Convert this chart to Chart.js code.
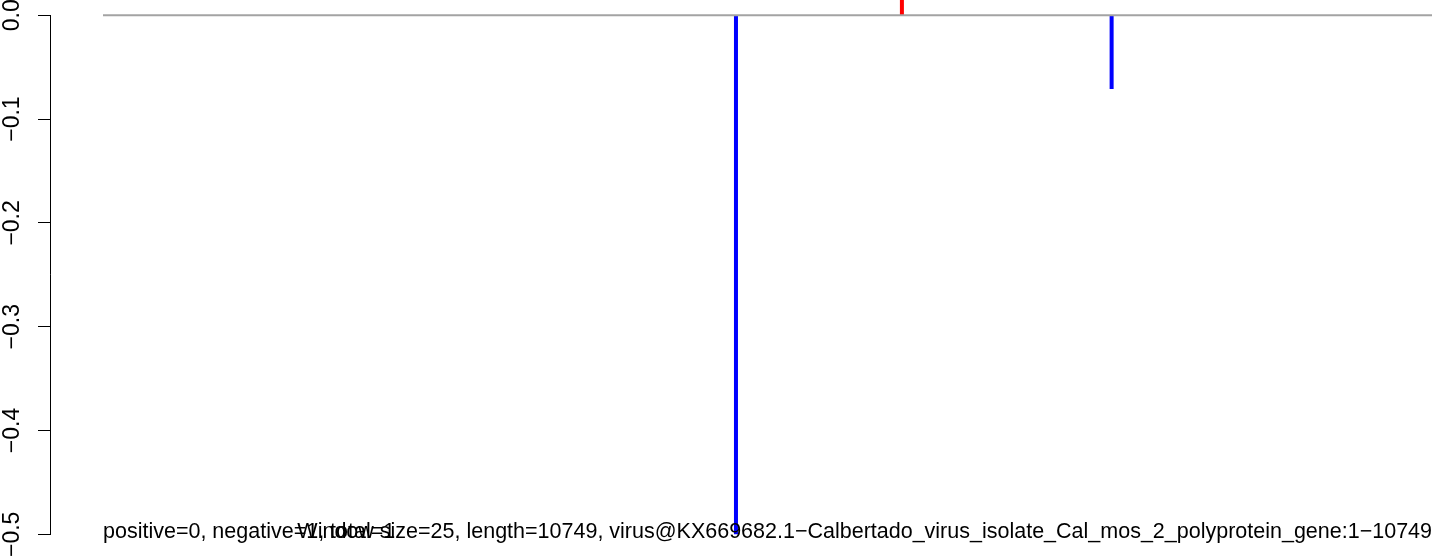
<!DOCTYPE html>
<html>
<head>
<meta charset="utf-8">
<script src="https://cdn.jsdelivr.net/npm/chart.js@4/dist/chart.umd.min.js"></script>
<style>
  html, body { margin: 0; padding: 0; background: #ffffff; }
  #wrap { width: 1444px; height: 560px; }
</style>
</head>
<body>
<div id="wrap"><canvas id="c" width="1444" height="560"></canvas></div>
<script>
// ---- data ----
const seqStart = 1;
const seqEnd = 10749;
const negativePositions = [5120, 8158];
const negativeValues = [-0.5, -0.071];
const positivePositions = [6462];
const positiveValues = [0.05];
const yTickValues = [0, -0.1, -0.2, -0.3, -0.4, -0.5];
const leftNote = "positive=0, negative=1, total=1";
const rightNote = "Window size=25, length=10749, virus@KX669682.1\u2212Calbertado_virus_isolate_Cal_mos_2_polyprotein_gene:1\u221210749";

// ---- layout constants ----
const FONT = "'Liberation Sans', Arial, Helvetica, sans-serif";
const FS = 21.5;
const TFS = 23;
const axisW = 51;
const W = 1444, H = 560;
const kx = (1432 - 103) / (seqEnd - seqStart);
const xMin = seqStart - (103 - axisW) / kx;
const xMax = xMin + (W - axisW) / kx;
const ky = (534.3 - 15.3) / 0.5;
const yMax = 15.3 / ky;
const yMin = yMax - H / ky;

const datasets = [];
datasets.push({
  data: [{x: seqStart, y: 0}, {x: seqEnd, y: 0}],
  borderColor: '#a3a3a3', borderWidth: 2, pointRadius: 0, order: 0
});
negativePositions.forEach((p, i) => datasets.push({
  data: [{x: p, y: 0}, {x: p, y: negativeValues[i]}],
  borderColor: '#0000ff', borderWidth: 4, pointRadius: 0, borderCapStyle: 'butt', order: 1
}));
positivePositions.forEach((p, i) => datasets.push({
  data: [{x: p, y: 0}, {x: p, y: positiveValues[i]}],
  borderColor: '#ff0000', borderWidth: 4, pointRadius: 0, borderCapStyle: 'butt', order: 1
}));

const fmt = v => v === 0 ? '0.0' : (v < 0 ? '\u2212' : '') + Math.abs(v).toFixed(1);

const axisLine = {
  id: 'axisLine',
  afterDraw(chart) {
    const ctx = chart.ctx, ys = chart.scales.y, xs = chart.scales.x;
    ctx.save();
    ctx.strokeStyle = '#000';
    ctx.lineWidth = 1;
    const xPix = Math.round(ys.right) - 0.5;
    ctx.beginPath();
    ctx.moveTo(xPix, ys.getPixelForValue(yTickValues[0]));
    ctx.lineTo(xPix, ys.getPixelForValue(yTickValues[yTickValues.length - 1]));
    ctx.stroke();
    ctx.fillStyle = '#000';
    ctx.font = FS + 'px ' + FONT;
    ctx.textBaseline = 'alphabetic';
    ctx.textAlign = 'left';
    ctx.fillText(leftNote, xs.getPixelForValue(seqStart), 538);
    ctx.textAlign = 'right';
    ctx.fillText(rightNote, xs.getPixelForValue(seqEnd), 538);
    ctx.restore();
  }
};

new Chart(document.getElementById('c'), {
  type: 'line',
  data: { datasets },
  options: {
    responsive: false,
    animation: false,
    devicePixelRatio: 1,
    layout: { padding: 0 },
    plugins: { legend: { display: false }, tooltip: { enabled: false } },
    elements: { line: { tension: 0 } },
    scales: {
      x: { type: 'linear', min: xMin, max: xMax, display: false },
      y: {
        type: 'linear', min: yMin, max: yMax,
        afterBuildTicks: s => { s.ticks = yTickValues.map(v => ({ value: v })); },
        afterFit: s => { s.width = axisW; s.paddingTop = 0; s.paddingBottom = 0; },
        border: { display: false },
        grid: { drawOnChartArea: false, drawTicks: true, tickLength: 13, color: '#000', lineWidth: 1 },
        ticks: {
          autoSkip: false, minRotation: 90, maxRotation: 90, crossAlign: 'center',
          padding: 3, color: '#000', font: { family: FONT, size: TFS },
          callback: v => fmt(v)
        }
      }
    }
  },
  plugins: [axisLine]
});
</script>
</body>
</html>
